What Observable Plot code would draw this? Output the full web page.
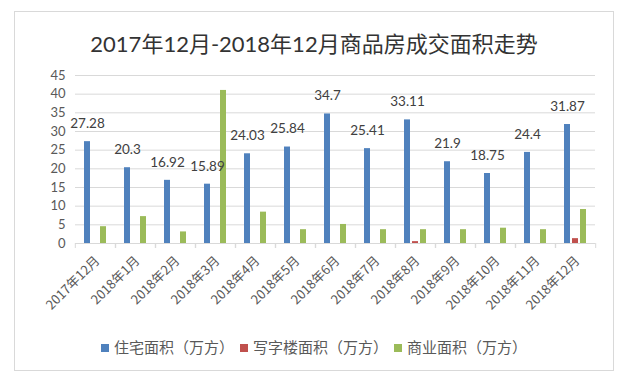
<!DOCTYPE html>
<html><head><meta charset="utf-8">
<script src="https://cdn.jsdelivr.net/npm/d3@7"></script>
<script src="https://cdn.jsdelivr.net/npm/@observablehq/plot@0.6"></script>
<style>
body{margin:0;background:#fff;font-family:Lato,"Noto Sans CJK SC",sans-serif;}
#wrap{position:relative;width:630px;height:390px;overflow:hidden;}
#frame{position:absolute;left:14px;top:11px;width:598px;height:358px;border:1px solid #d9d9d9;}
#title{position:absolute;left:14px;width:600px;top:28px;text-align:center;font-size:22px;color:#333;line-height:32px;white-space:nowrap;}
#chart{position:absolute;left:0;top:0;}
#legend{position:absolute;left:14px;width:600px;top:337px;text-align:center;font-size:15px;color:#595959;font-family:"Noto Sans CJK SC",sans-serif;line-height:20px;white-space:nowrap;}
#legend .item{display:inline-block;margin:0 3px;}
#legend .sw{display:inline-block;width:8px;height:8px;margin-right:5px;vertical-align:1px;}
</style>
</head><body>
<div id="wrap">
<div id="frame"></div>
<div id="title">2017年12月-2018年12月商品房成交面积走势</div>
<div id="chart"></div>
<div id="legend"></div>
</div>
<script>
const months = ["2017年12月","2018年1月","2018年2月","2018年3月","2018年4月","2018年5月","2018年6月","2018年7月","2018年8月","2018年9月","2018年10月","2018年11月","2018年12月"];
const series = ["住宅面积（万方）","写字楼面积（万方）","商业面积（万方）"];
const residential = [27.28,20.3,16.92,15.89,24.03,25.84,34.7,25.41,33.11,21.9,18.75,24.4,31.87];
const office = [0,0,0,0,0,0,0,0,0.5,0,0,0,1.3];
const commercial = [4.5,7.2,3.1,41,8.4,3.7,5.1,3.7,3.7,3.7,4.1,3.7,9.1];
const colors = ["#4F81BD","#C0504D","#9BBB59"];
const yTicks = [0,5,10,15,20,25,30,35,40,45];

const seriesValues = [residential, office, commercial];
const rows = months.flatMap((m,i)=>series.map((s,j)=>({month:m, series:s, value:seriesValues[j][i]})));

const W = 630, H = 330, ML = 72, MR = 33;
const bw = (W - ML - MR) / months.length;

const chart = Plot.plot({
  width: W, height: H,
  marginTop: 75, marginBottom: 87, marginLeft: ML, marginRight: MR,
  style: {fontFamily: 'Lato,"Noto Sans CJK SC",sans-serif', fontSize: "13px", color: "#595959", background: "transparent"},
  fx: {domain: months, padding: 0, label: null, axis: null},
  x: {domain: series, paddingInner: 0.2, paddingOuter: 0.91, axis: null},
  y: {domain: [0,45], label: null},
  color: {domain: series, range: colors},
  marks: [
    Plot.gridY(yTicks, {stroke: "#d9d9d9", strokeOpacity: 1}),
    Plot.axisY(yTicks, {tickSize: 0, tickPadding: 10, fontSize: 13, label: null, fill: "#595959"}),
    Plot.barY(rows, {fx: "month", x: "series", y: "value", fill: "series"}),
    Plot.text(rows.filter(d => d.series === series[0]), {fx: "month", x: "series", y: "value", text: d => String(d.value), dy: -18, fontSize: 13.5, fill: "#404040"}),
    Plot.ruleY([0], {stroke: "#d9d9d9"}),
    Plot.axisFx({anchor: "bottom", tickRotate: -45, tickSize: 0, tickPadding: 15, dx: 2, fontSize: 13, fill: "#595959", label: null, fontFamily: '"Noto Sans CJK SC",sans-serif'}),
    Plot.axisFx({anchor: "bottom", tickSize: 5, text: null, dx: -bw/2, stroke: "#d9d9d9", strokeOpacity: 1, label: null}),
    Plot.axisFx([months[months.length-1]], {anchor: "bottom", tickSize: 5, text: null, dx: bw/2, stroke: "#d9d9d9", strokeOpacity: 1, label: null})
  ]
});
document.getElementById("chart").appendChild(chart);

const legend = document.getElementById("legend");
series.forEach((s,i)=>{
  const it = document.createElement("span"); it.className = "item";
  const sw = document.createElement("span"); sw.className = "sw"; sw.style.background = colors[i];
  it.appendChild(sw); it.appendChild(document.createTextNode(s));
  legend.appendChild(it);
});
</script>
</body></html>
